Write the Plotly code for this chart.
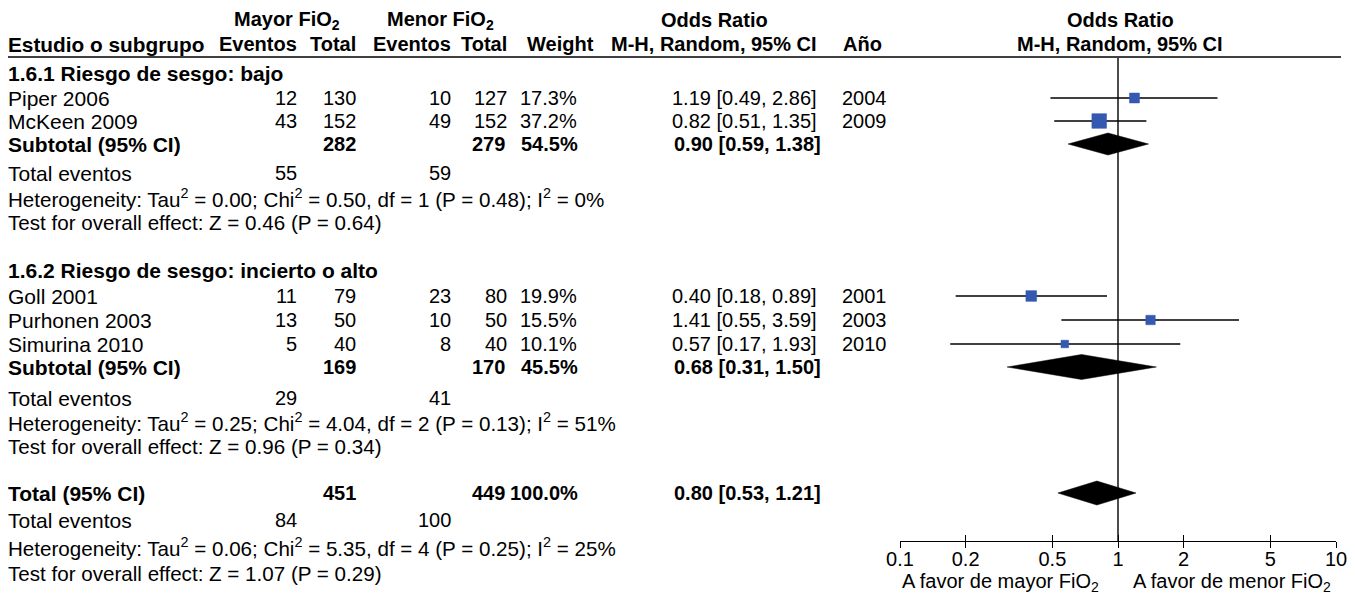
import plotly.graph_objects as go
import numpy as np

W, H = 1355, 597

# ---------------- data ----------------
studies = ["Piper 2006", "McKeen 2009", "Goll 2001", "Purhonen 2003", "Simurina 2010"]
ev_mayor = [12, 43, 11, 13, 5]
n_mayor = [130, 152, 79, 50, 40]
ev_menor = [10, 49, 23, 10, 8]
n_menor = [127, 152, 80, 50, 40]
weight = [17.3, 37.2, 19.9, 15.5, 10.1]
or_est = [1.19, 0.82, 0.40, 1.41, 0.57]
or_lo = [0.49, 0.51, 0.18, 0.55, 0.17]
or_hi = [2.86, 1.35, 0.89, 3.59, 1.93]
year = [2004, 2009, 2001, 2003, 2010]

group_titles = ["1.6.1 Riesgo de sesgo: bajo", "1.6.2 Riesgo de sesgo: incierto o alto"]
sub_labels = ["Subtotal (95% CI)", "Subtotal (95% CI)", "Total (95% CI)"]
sub_n_mayor = [282, 169, 451]
sub_n_menor = [279, 170, 449]
sub_weight = [54.5, 45.5, 100.0]
sub_est = [0.90, 0.68, 0.80]
sub_lo = [0.59, 0.31, 0.53]
sub_hi = [1.38, 1.50, 1.21]
tot_ev_mayor = [55, 29, 84]
tot_ev_menor = [59, 41, 100]
tau2 = [0.00, 0.25, 0.06]
chi2 = [0.50, 4.04, 5.35]
df = [1, 2, 4]
p_het = [0.48, 0.13, 0.25]
i2 = [0, 51, 25]
z_val = [0.46, 0.96, 1.07]
p_z = [0.64, 0.34, 0.29]
x_ticks = [0.1, 0.2, 0.5, 1, 2, 5, 10]
x_ticklabels = ["0.1", "0.2", "0.5", "1", "2", "5", "10"]

# ---------------- layout (row positions in px from top) ----------------
study_y = [98, 121, 296, 320, 344]
title_y = [73, 270]
sub_y = [144, 367, 493]
totev_y = [173, 398, 520]
het_y = [198, 422, 547]
test_y = [222, 446, 573]
diamond_half = [11, 12.5, 12]
AXIS_Y = 541

FONT = "Liberation Sans"
FS = 20        # numbers / headers
FS_LAB = 21    # left-column labels
FS_NOTE = 20.6 # heterogeneity / test lines
BLUE = "#3559B0"

fig = go.Figure()

# CI lines
xs, ys = [], []
for lo, hi, y in zip(or_lo, or_hi, study_y):
    xs += [lo, hi, None]
    ys += [y, y, None]
fig.add_trace(go.Scatter(x=xs, y=ys, mode="lines", line=dict(color="black", width=1.5),
                         hoverinfo="skip", showlegend=False))
# squares
fig.add_trace(go.Scatter(x=or_est, y=study_y, mode="markers",
                         marker=dict(symbol="square", color=BLUE, opacity=1,
                                     size=[2.4 * np.sqrt(w) for w in weight],
                                     line=dict(width=0.5, color=BLUE)),
                         showlegend=False))
# diamonds
for est, lo, hi, y, h in zip(sub_est, sub_lo, sub_hi, sub_y, diamond_half):
    fig.add_trace(go.Scatter(x=[lo, est, hi, est, lo], y=[y, y - h, y, y + h, y],
                             mode="lines", fill="toself", fillcolor="black",
                             line=dict(color="black", width=0.5),
                             hoverinfo="skip", showlegend=False))
# dummy trace for overlay axis
fig.add_trace(go.Scatter(x=[1], y=[-100], xaxis="x2", mode="markers",
                         marker=dict(opacity=0), showlegend=False, hoverinfo="skip"))

# reference line at 1 and header rule
fig.add_shape(type="line", xref="x", yref="y", x0=1, x1=1, y0=58, y1=AXIS_Y,
              line=dict(color="black", width=1.4))
fig.add_shape(type="line", xref="paper", yref="y", x0=8 / W, x1=1341 / W, y0=57, y1=57,
              line=dict(color="black", width=1.6))

ann = []


def txt(xpx, y, text, anchor="left", bold=False, size=FS):
    if bold:
        text = "<b>" + text + "</b>"
    ann.append(dict(x=xpx / W, xref="paper", y=y, yref="y", text=text, showarrow=False,
                    xanchor=anchor, yanchor="middle", borderpad=0, borderwidth=0,
                    font=dict(family=FONT, size=size, color="black")))


# headers
txt(287, 20, "Mayor FiO<sub>2</sub>", "center", True)
txt(441, 20, "Menor FiO<sub>2</sub>", "center", True)
txt(714, 20, "Odds Ratio", "center", True)
txt(1120, 20, "Odds Ratio", "center", True)
txt(8, 44, "Estudio o subgrupo", "left", True, 20.8)
txt(297, 44, "Eventos", "right", True)
txt(356, 44, "Total", "right", True)
txt(451, 44, "Eventos", "right", True)
txt(507, 44, "Total", "right", True)
txt(560, 44, "Weight", "center", True)
txt(714, 44, "M-H, Random, 95% CI", "center", True)
txt(862, 44, "Año", "center", True)
txt(1120, 44, "M-H, Random, 95% CI", "center", True)

for t, y in zip(group_titles, title_y):
    txt(8, y, t, "left", True, FS_LAB)

for i in range(len(studies)):
    y = study_y[i]
    txt(8, y, studies[i], "left", False, FS_LAB)
    txt(297, y, str(ev_mayor[i]), "right")
    txt(356, y, str(n_mayor[i]), "right")
    txt(451, y, str(ev_menor[i]), "right")
    txt(507, y, str(n_menor[i]), "right")
    txt(577, y, f"{weight[i]:.1f}%", "right")
    txt(817, y, f"{or_est[i]:.2f} [{or_lo[i]:.2f}, {or_hi[i]:.2f}]", "right")
    txt(842, y, str(year[i]), "left")

for k in range(3):
    y = sub_y[k]
    txt(8, y, sub_labels[k], "left", True, FS_LAB)
    txt(356, y, str(sub_n_mayor[k]), "right", True)
    txt(505, y, str(sub_n_menor[k]), "right", True)
    txt(578, y, f"{sub_weight[k]:.1f}%", "right", True)
    txt(821, y, f"{sub_est[k]:.2f} [{sub_lo[k]:.2f}, {sub_hi[k]:.2f}]", "right", True)
    txt(8, totev_y[k], "Total eventos", "left", False, FS_LAB)
    txt(297, totev_y[k], str(tot_ev_mayor[k]), "right")
    txt(451, totev_y[k], str(tot_ev_menor[k]), "right")
    txt(8, het_y[k], f"Heterogeneity: Tau<sup>2</sup> = {tau2[k]:.2f}; Chi<sup>2</sup> = {chi2[k]:.2f}, "
                     f"df = {df[k]} (P = {p_het[k]:.2f}); I<sup>2</sup> = {i2[k]}%",
        "left", False, FS_NOTE)
    txt(8, test_y[k], f"Test for overall effect: Z = {z_val[k]:.2f} (P = {p_z[k]:.2f})",
        "left", False, FS_NOTE)

txt(1000, 582, "A favor de mayor FiO<sub>2</sub>", "center")
txt(1232, 582, "A favor de menor FiO<sub>2</sub>", "center")

axpos = 1 - AXIS_Y / H
dom = [900 / W, 1336 / W]
fig.update_layout(
    width=W, height=H, autosize=False, margin=dict(l=0, r=0, t=0, b=0, pad=0, autoexpand=False),
    paper_bgcolor="white", plot_bgcolor="white",
    showlegend=False, annotations=ann,
    xaxis=dict(type="log", range=[-1, 1], domain=dom, anchor="free", position=axpos,
               automargin=False,
               showline=True, linecolor="black", linewidth=1.4, ticks="inside", ticklen=6,
               tickwidth=1.4, tickcolor="black", tickvals=x_ticks, ticktext=x_ticklabels,
               tickfont=dict(family=FONT, size=FS, color="black"),
               showgrid=False, zeroline=False),
    xaxis2=dict(type="log", range=[-1, 1], domain=dom, anchor="free", position=axpos,
                automargin=False,
                overlaying="x", matches="x", showline=False, ticks="outside", ticklen=6,
                tickwidth=1.4, tickcolor="black", tickvals=x_ticks, showticklabels=False,
                showgrid=False, zeroline=False),
    yaxis=dict(range=[H, 0], domain=[0, 1], visible=False, showgrid=False, zeroline=False,
               automargin=False),
)

fig.write_html(
    "out.html",
    config={"displayModeBar": False, "responsive": False},
    post_script="document.documentElement.style.margin='0';"
                "document.documentElement.style.padding='0';"
                "document.documentElement.style.overflow='hidden';"
                "document.body.style.margin='0';"
                "document.body.style.padding='0';"
                "document.body.style.overflow='hidden';",
)
